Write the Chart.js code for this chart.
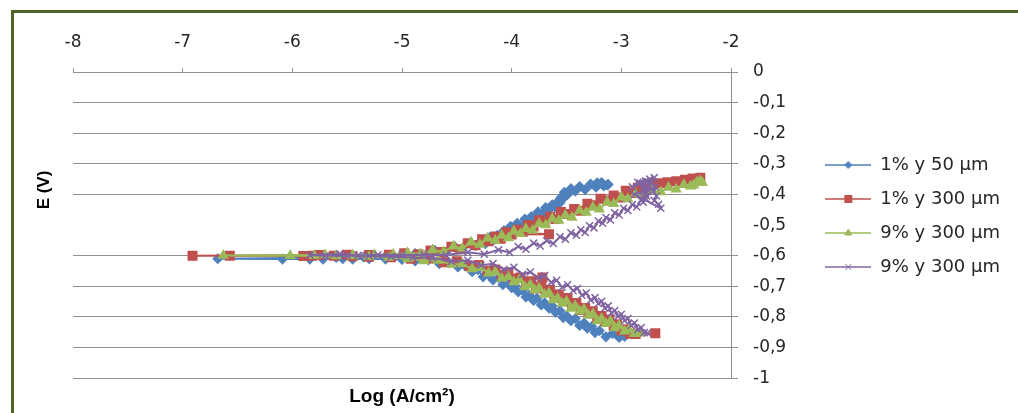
<!DOCTYPE html>
<html>
<head>
<meta charset="utf-8">
<title>E vs Log i</title>
<script src="https://cdn.jsdelivr.net/npm/chart.js"></script>
<style>
    html, body { margin: 0; padding: 0; background: #fff; }
    #wrap { position: relative; width: 1018px; height: 413px; overflow: hidden; }
    #frame { position: absolute; left: 11px; top: 10px; width: 1030px; height: 430px; border: 3px solid #4f6228; pointer-events: none; }
    #chart1 { position: absolute; left: 0; top: 0; }
</style>
</head>
<body>
<div id="wrap">
    <canvas id="chart1" width="1018" height="413"></canvas>
    <div id="frame"></div>
</div>
<script>
// series labels (the last two share the same name in the original)
const seriesLabels = ['1% y 50 µm', '1% y 300 µm', '9% y 300 µm', '9% y 300 µm'];

// [log i (A/cm2), E (V)], in scan order
const s1Points = [
    [-2.97, -0.864], [-3.02, -0.867], [-3.08, -0.854], [-3.14, -0.865], [-3.2, -0.845], [-3.24, -0.851],
    [-3.27, -0.831], [-3.31, -0.837], [-3.34, -0.82], [-3.38, -0.828], [-3.42, -0.805], [-3.46, -0.812],
    [-3.5, -0.796], [-3.53, -0.802], [-3.56, -0.78], [-3.6, -0.785], [-3.63, -0.764], [-3.66, -0.771],
    [-3.7, -0.754], [-3.73, -0.761], [-3.77, -0.739], [-3.8, -0.746], [-3.84, -0.729], [-3.87, -0.735],
    [-3.9, -0.713], [-3.94, -0.718], [-3.97, -0.697], [-4.0, -0.704], [-4.04, -0.687], [-4.08, -0.695],
    [-4.12, -0.672], [-4.17, -0.679], [-4.21, -0.662], [-4.26, -0.669], [-4.31, -0.646], [-4.36, -0.652],
    [-4.42, -0.634], [-4.49, -0.637], [-4.57, -0.623], [-4.66, -0.626], [-4.76, -0.614], [-4.88, -0.617],
    [-5.0, -0.612], [-5.15, -0.611], [-5.3, -0.61], [-5.45, -0.611], [-5.54, -0.61], [-5.72, -0.611],
    [-5.84, -0.611], [-6.09, -0.611], [-6.68, -0.61],
    [-5.6, -0.606], [-5.35, -0.604], [-5.15, -0.602], [-5.0, -0.6], [-4.88, -0.593], [-4.78, -0.596],
    [-4.7, -0.583], [-4.6, -0.589], [-4.52, -0.571], [-4.45, -0.578], [-4.38, -0.559], [-4.33, -0.567],
    [-4.28, -0.552], [-4.24, -0.561], [-4.2, -0.54], [-4.16, -0.548], [-4.13, -0.533], [-4.1, -0.54],
    [-4.07, -0.518], [-4.04, -0.524], [-4.01, -0.504], [-3.98, -0.511], [-3.95, -0.494], [-3.92, -0.502],
    [-3.88, -0.48], [-3.85, -0.488], [-3.82, -0.472], [-3.79, -0.479], [-3.76, -0.457], [-3.72, -0.463],
    [-3.69, -0.443], [-3.66, -0.45], [-3.63, -0.434], [-3.6, -0.442], [-3.57, -0.42], [-3.56, -0.427],
    [-3.55, -0.41], [-3.54, -0.416], [-3.52, -0.393], [-3.49, -0.4], [-3.46, -0.381], [-3.42, -0.389],
    [-3.38, -0.374], [-3.33, -0.384], [-3.28, -0.366], [-3.23, -0.376], [-3.18, -0.361], [-3.13, -0.369],
    [-3.16, -0.372], [-3.22, -0.362], [-3.12, -0.367]
];

const s2Points = [
    [-2.69, -0.853], [-2.87, -0.856], [-2.92, -0.855], [-2.96, -0.84], [-3.0, -0.844], [-3.04, -0.824],
    [-3.07, -0.829], [-3.11, -0.808], [-3.15, -0.814], [-3.18, -0.797], [-3.22, -0.804], [-3.26, -0.781],
    [-3.3, -0.788], [-3.33, -0.771], [-3.37, -0.777], [-3.41, -0.754], [-3.45, -0.759], [-3.49, -0.738],
    [-3.53, -0.744], [-3.57, -0.727], [-3.61, -0.734], [-3.65, -0.711], [-3.69, -0.718], [-3.73, -0.701],
    [-3.78, -0.707], [-3.82, -0.684], [-3.87, -0.689], [-3.92, -0.671], [-3.72, -0.671], [-3.98, -0.674],
    [-4.03, -0.655], [-4.09, -0.662], [-4.15, -0.645], [-4.22, -0.649], [-4.3, -0.63], [-4.39, -0.633],
    [-4.5, -0.618], [-4.62, -0.621], [-4.76, -0.609], [-4.92, -0.61], [-5.1, -0.605], [-5.3, -0.603],
    [-5.45, -0.602], [-5.62, -0.6], [-5.82, -0.6], [-5.9, -0.601], [-6.57, -0.6], [-6.91, -0.6],
    [-5.75, -0.598], [-5.5, -0.597], [-5.3, -0.598], [-5.12, -0.597], [-4.98, -0.592], [-4.85, -0.595],
    [-4.74, -0.583], [-4.64, -0.588], [-4.55, -0.571], [-4.47, -0.579], [-4.4, -0.559], [-4.33, -0.566],
    [-4.27, -0.546], [-4.21, -0.553], [-4.15, -0.537], [-4.1, -0.545], [-4.05, -0.523], [-3.66, -0.53],
    [-4.0, -0.531], [-3.95, -0.515], [-3.9, -0.522], [-3.85, -0.5], [-3.8, -0.505], [-3.75, -0.484],
    [-3.7, -0.49], [-3.65, -0.473], [-3.6, -0.48], [-3.55, -0.457], [-3.49, -0.464], [-3.43, -0.447],
    [-3.37, -0.453], [-3.31, -0.43], [-3.25, -0.435], [-3.19, -0.414], [-3.13, -0.42], [-3.07, -0.403],
    [-3.01, -0.41], [-2.96, -0.388], [-2.91, -0.395], [-2.85, -0.378], [-2.78, -0.381], [-2.71, -0.365],
    [-2.65, -0.363], [-2.58, -0.36], [-2.5, -0.357], [-2.42, -0.352], [-2.35, -0.348], [-2.28, -0.345]
];

const s3Points = [
    [-2.83, -0.853], [-2.88, -0.855], [-2.93, -0.841], [-2.97, -0.847], [-3.02, -0.828], [-3.06, -0.836],
    [-3.1, -0.814], [-3.14, -0.822], [-3.18, -0.806], [-3.22, -0.813], [-3.26, -0.79], [-3.3, -0.795],
    [-3.34, -0.775], [-3.38, -0.781], [-3.42, -0.764], [-3.46, -0.772], [-3.5, -0.749], [-3.54, -0.756],
    [-3.58, -0.739], [-3.62, -0.745], [-3.66, -0.722], [-3.7, -0.727], [-3.75, -0.706], [-3.79, -0.712],
    [-3.83, -0.695], [-3.88, -0.702], [-3.93, -0.679], [-3.98, -0.686], [-4.03, -0.669], [-4.09, -0.674],
    [-4.15, -0.652], [-4.21, -0.657], [-4.28, -0.639], [-4.36, -0.643], [-4.45, -0.627], [-4.55, -0.629],
    [-4.67, -0.616], [-4.8, -0.617], [-4.95, -0.61], [-5.12, -0.606], [-5.3, -0.603], [-5.45, -0.601],
    [-5.6, -0.601], [-5.8, -0.6], [-6.02, -0.6], [-6.63, -0.599],
    [-5.7, -0.598], [-5.45, -0.598], [-5.25, -0.597], [-5.08, -0.596], [-4.95, -0.591], [-4.83, -0.594],
    [-4.72, -0.581], [-4.62, -0.587], [-4.53, -0.569], [-4.45, -0.576], [-4.37, -0.556], [-4.29, -0.563],
    [-4.22, -0.543], [-4.15, -0.55], [-4.09, -0.534], [-4.03, -0.542], [-3.98, -0.52], [-3.92, -0.528],
    [-3.87, -0.512], [-3.81, -0.518], [-3.75, -0.495], [-3.69, -0.5], [-3.63, -0.479], [-3.57, -0.485],
    [-3.51, -0.468], [-3.45, -0.475], [-3.38, -0.452], [-3.32, -0.459], [-3.26, -0.442], [-3.2, -0.448],
    [-3.13, -0.425], [-3.07, -0.43], [-3.0, -0.409], [-2.94, -0.415], [-2.87, -0.398], [-2.8, -0.405],
    [-2.72, -0.385], [-2.64, -0.392], [-2.57, -0.377], [-2.5, -0.383], [-2.43, -0.368], [-2.37, -0.373],
    [-2.31, -0.359], [-2.26, -0.362], [-2.28, -0.355], [-2.34, -0.37]
];

const s4Points = [
    [-2.76, -0.852], [-2.79, -0.851], [-2.82, -0.835], [-2.85, -0.841], [-2.88, -0.82], [-2.91, -0.828],
    [-2.94, -0.805], [-2.97, -0.812], [-3.0, -0.791], [-3.03, -0.798], [-3.06, -0.779], [-3.09, -0.787],
    [-3.12, -0.764], [-3.15, -0.771], [-3.18, -0.749], [-3.21, -0.756], [-3.24, -0.737], [-3.28, -0.745],
    [-3.32, -0.722], [-3.36, -0.729], [-3.4, -0.707], [-3.44, -0.714], [-3.49, -0.695], [-3.54, -0.703],
    [-3.59, -0.68], [-3.64, -0.687], [-3.7, -0.665], [-3.76, -0.672], [-3.83, -0.653], [-3.9, -0.661],
    [-3.98, -0.638], [-4.07, -0.645], [-4.17, -0.626], [-4.28, -0.631], [-4.4, -0.615], [-4.55, -0.619],
    [-4.72, -0.607], [-4.9, -0.606], [-5.1, -0.603], [-5.3, -0.601], [-5.5, -0.6], [-5.7, -0.6],
    [-5.84, -0.598], [-5.57, -0.594], [-5.4, -0.599], [-5.22, -0.597],
    [-5.0, -0.598], [-4.8, -0.597], [-4.6, -0.598], [-4.4, -0.589], [-4.25, -0.595], [-4.12, -0.581],
    [-4.02, -0.589], [-3.94, -0.57], [-3.87, -0.579], [-3.8, -0.559], [-3.74, -0.568], [-3.68, -0.551],
    [-3.62, -0.56], [-3.56, -0.538], [-3.51, -0.546], [-3.46, -0.525], [-3.41, -0.533], [-3.37, -0.515],
    [-3.33, -0.524], [-3.29, -0.502], [-3.25, -0.509], [-3.21, -0.487], [-3.17, -0.494], [-3.14, -0.475],
    [-3.1, -0.483], [-3.06, -0.46], [-3.02, -0.467], [-2.98, -0.445], [-2.94, -0.452], [-2.9, -0.433],
    [-2.86, -0.441], [-2.82, -0.418], [-2.8, -0.425], [-2.78, -0.412], [-2.77, -0.405], [-2.78, -0.398],
    [-2.8, -0.391], [-2.79, -0.384], [-2.77, -0.377], [-2.8, -0.37], [-2.83, -0.363], [-2.78, -0.356],
    [-2.74, -0.35], [-2.76, -0.358], [-2.72, -0.365], [-2.69, -0.375], [-2.71, -0.39], [-2.68, -0.405],
    [-2.7, -0.42], [-2.66, -0.432], [-2.64, -0.445], [-2.88, -0.4], [-2.72, -0.38], [-2.85, -0.36],
    [-2.7, -0.345], [-2.9, -0.375]
];

const PLOT_LEFT = 73;
const PLOT_RIGHT = 731;
const PLOT_TOP = 72;
const PAD_RIGHT = 8;

function toXY(points) {
    return points.map(p => ({ x: p[0], y: p[1] }));
}

function makeLegendIcon(color, style, radius) {
    var c = document.createElement('canvas');
    c.width = 46;
    c.height = 16;
    var ctx = c.getContext('2d');
    ctx.strokeStyle = color;
    ctx.fillStyle = color;
    ctx.lineWidth = 1.5;
    ctx.beginPath();
    ctx.moveTo(0, 8);
    ctx.lineTo(46, 8);
    ctx.stroke();
    ctx.lineWidth = 1;
    Chart.helpers.drawPoint(ctx, { pointStyle: style, radius: radius, borderWidth: 1, rotation: 0 }, 23, 8);
    return c;
}

function makeDataset(i, points, color, style, radius) {
    return {
        label: seriesLabels[i],
        data: toXY(points),
        showLine: true,
        borderColor: color,
        backgroundColor: color,
        borderWidth: 2,
        pointStyle: style,
        pointRadius: radius,
        pointHoverRadius: radius,
        pointBorderWidth: 1.5,
        pointBorderColor: color,
        pointBackgroundColor: color,
        order: 4 - i
    };
}

const datasets = [
    makeDataset(0, s1Points, '#4f81bd', 'rectRot', 4.5),
    makeDataset(1, s2Points, '#c0504d', 'rect', 6),
    makeDataset(2, s3Points, '#9bbb59', 'triangle', 5),
    makeDataset(3, s4Points, '#8064a2', 'crossRot', 5)
];

const legendIcons = datasets.map(d => makeLegendIcon(d.borderColor, d.pointStyle, d.pointRadius - 1));

// axis title on the left, the value axis itself sits on the right
const sideTitle = {
    id: 'sideTitle',
    afterDraw: function (chart, args, opts) {
        const ctx = chart.ctx;
        ctx.save();
        ctx.font = 'bold 17px "Liberation Sans"';
        ctx.fillStyle = '#000';
        ctx.textAlign = 'center';
        ctx.textBaseline = 'middle';
        ctx.translate(chart.chartArea.left - opts.offsetX, chart.chartArea.top + opts.offsetY);
        ctx.rotate(-Math.PI / 2);
        ctx.fillText(opts.text, 0, 0);
        ctx.restore();
    }
};

const tickFont = { family: 'DejaVu Sans', size: 17 };

const config = {
    type: 'scatter',
    data: { datasets: datasets },
    options: {
        responsive: false,
        animation: false,
        events: [],
        layout: { padding: { left: PLOT_LEFT, right: PAD_RIGHT, top: 0, bottom: 0 } },
        scales: {
            x: {
                type: 'linear',
                position: 'top',
                min: -8,
                max: -2,
                ticks: { stepSize: 1, font: tickFont, color: '#262626', padding: 15 },
                grid: { drawOnChartArea: false, drawTicks: true, tickLength: 4, color: '#8f8f8f' },
                border: { display: true, color: '#8f8f8f' },
                afterFit: function (scale) { scale.height = PLOT_TOP; }
            },
            y: {
                type: 'linear',
                position: 'right',
                min: -1,
                max: 0,
                ticks: {
                    stepSize: 0.1,
                    font: tickFont,
                    color: '#262626',
                    padding: 15,
                    callback: function (value) {
                        var v = Math.round(value * 10) / 10;
                        if (v === 0) return '0';
                        if (v === -1) return '-1';
                        return v.toFixed(1).replace('.', ',');
                    }
                },
                grid: {
                    tickLength: 7,
                    color: function (ctx) {
                        if (ctx.tick && Math.abs(ctx.tick.value + 0.5) < 1e-6) return 'rgba(0,0,0,0)';
                        return '#8f8f8f';
                    }
                },
                border: { display: true, color: '#8f8f8f' },
                afterFit: function (scale) {
                    scale.width = 1018 - PAD_RIGHT - PLOT_RIGHT - scale.chart.legend.width;
                }
            }
        },
        plugins: {
            tooltip: { enabled: false },
            sideTitle: { text: 'E (V)', offsetX: 29, offsetY: 118 },
            legend: {
                display: true,
                position: 'right',
                title: { display: true, text: '', font: { size: 10 }, padding: { top: 0, bottom: 7 } },
                labels: {
                    usePointStyle: true,
                    pointStyleWidth: 46,
                    padding: 16,
                    color: '#262626',
                    font: { family: 'DejaVu Sans', size: 18 },
                    sort: (a, b) => a.datasetIndex - b.datasetIndex,
                    generateLabels: function (chart) {
                        var items = Chart.defaults.plugins.legend.labels.generateLabels(chart);
                        items.forEach(function (item) { item.pointStyle = legendIcons[item.datasetIndex]; });
                        return items;
                    }
                }
            },
            title: {
                display: true,
                position: 'bottom',
                fullSize: false,
                text: 'Log (A/cm²)',
                color: '#000',
                font: { family: 'Liberation Sans', size: 19, weight: 'bold' },
                padding: { top: 7, bottom: 5 }
            }
        }
    },
    plugins: [sideTitle]
};

const chart1 = new Chart(document.getElementById('chart1'), config);
</script>
</body>
</html>
